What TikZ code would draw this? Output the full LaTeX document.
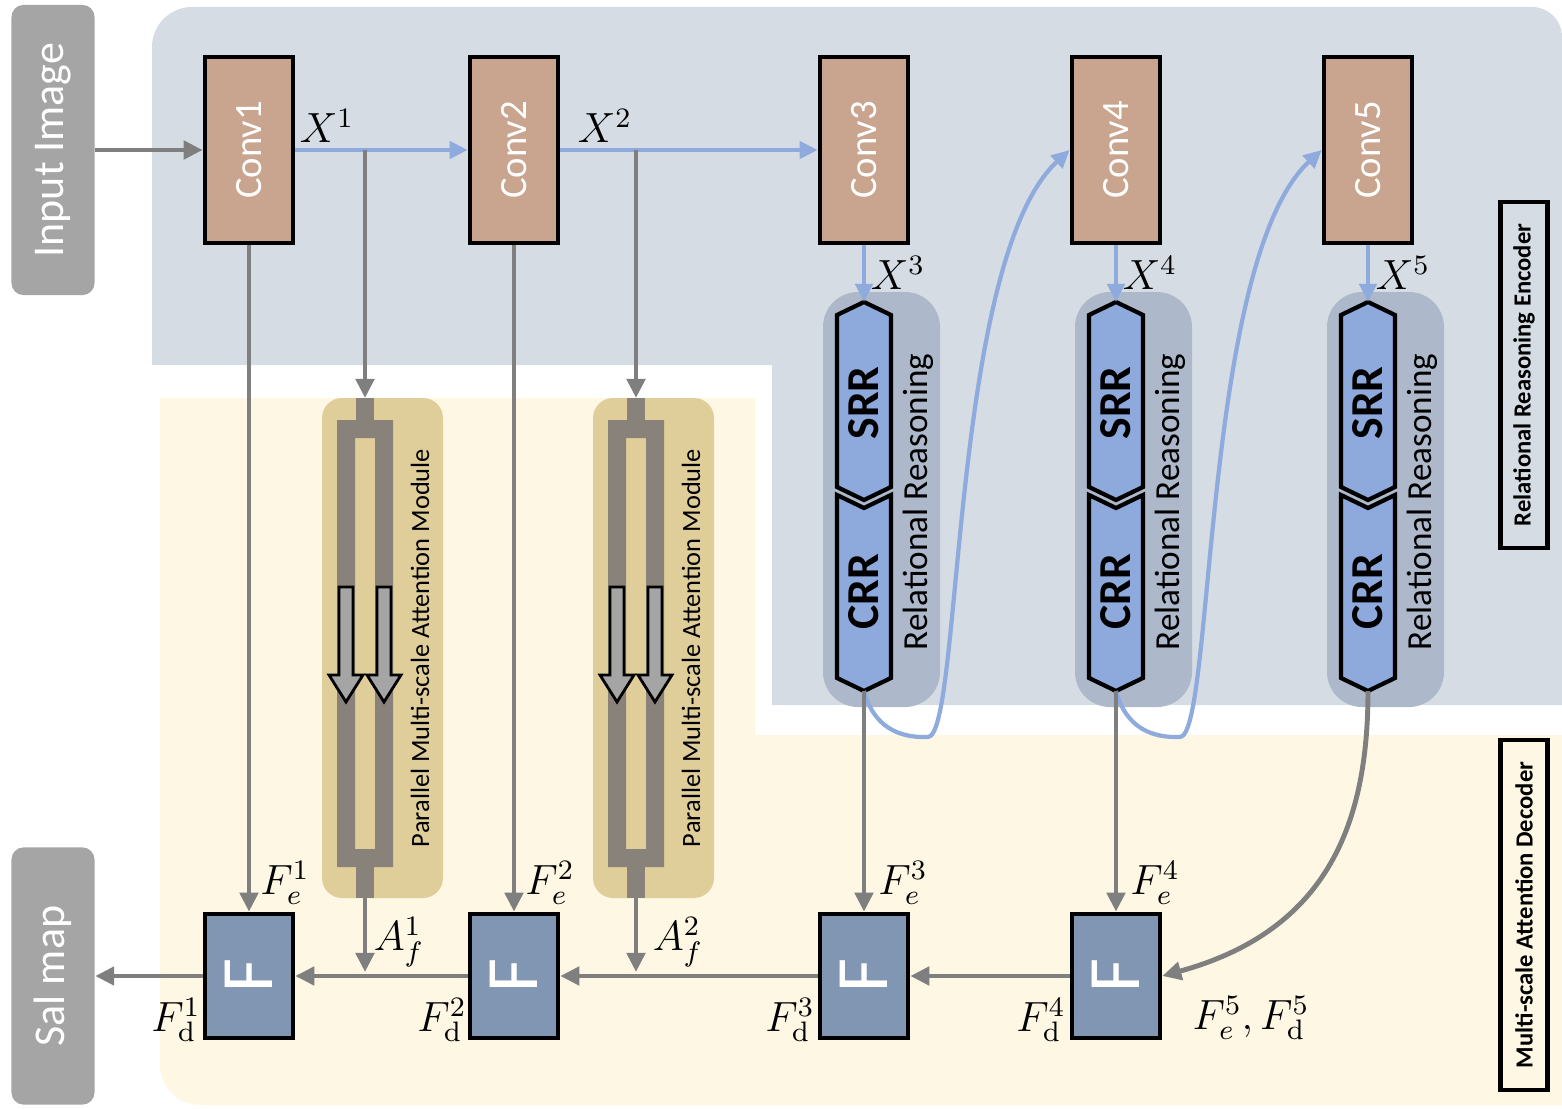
\documentclass[tikz,border=0pt]{standalone}
\usepackage[no-math]{fontspec}
\setmainfont{Carlito}
\usetikzlibrary{arrows.meta, positioning, calc}
\definecolor{encBg}{HTML}{D6DCE4}
\definecolor{decBg}{HTML}{FEF7E4}
\definecolor{ioGrey}{HTML}{A5A5A5}
\definecolor{convBrown}{HTML}{C9A48E}
\definecolor{rrBg}{HTML}{ADB8CA}
\definecolor{rrBlue}{HTML}{8EA9DB}
\definecolor{fuseBlue}{HTML}{8196B3}
\definecolor{pmamTan}{HTML}{DFCD9A}
\definecolor{pmamGrey}{HTML}{89827A}
\definecolor{lineGrey}{HTML}{7F7F7F}
\definecolor{lineBlue}{HTML}{8FAADC}
\tikzset{
  greyarrow/.style   = {-{Triangle[length=1.9mm, width=1.8mm]}, line width=1.4pt, lineGrey},
  bluearrow/.style   = {-{Triangle[length=1.8mm, width=1.7mm]}, line width=1.2pt, lineBlue},
  convbox/.style     = {draw=black, line width=1.3pt, fill=convBrown, text=white,
                        minimum width=0.88cm, minimum height=1.86cm, inner sep=0pt,
                        font=\fontsize{11}{13}\selectfont},
  fusebox/.style     = {draw=black, line width=1.3pt, fill=fuseBlue, text=white,
                        minimum width=0.88cm, minimum height=1.24cm, inner sep=0pt,
                        font=\fontsize{21}{24}\selectfont},
  iobox/.style       = {fill=ioGrey, rounded corners=0.12cm, text=white, inner sep=0pt,
                        minimum width=0.83cm, font=\fontsize{12.5}{15}\selectfont},
  sidebox/.style     = {draw=black, line width=1.3pt, inner sep=0pt, minimum width=0.47cm,
                        font=\bfseries\fontsize{7}{8}\selectfont},
  chevron/.style     = {fill=rrBlue, draw=black, line width=1.2pt, line join=miter},
  rrtext/.style      = {font=\bfseries\fontsize{13}{15}\selectfont, inner sep=0pt},
  sidetext/.style    = {font=\fontsize{10}{12}\selectfont, inner sep=0pt},
  pmamtext/.style    = {font=\fontsize{7.5}{9}\selectfont, inner sep=0pt},
  hollowarrow/.style = {fill=ioGrey, draw=black, line width=0.8pt},
  lbl/.style         = {font=\fontsize{12}{14}\selectfont, inner sep=1pt},
}
\begin{document}
\begin{tikzpicture}[x=0.01cm, y=-0.01cm]
  \useasboundingbox (0,0) rectangle (1562,1109);
  % background regions
  \fill[encBg] (152,365) -- (152,47) arc[start angle=180, end angle=90, radius=0.4cm]
    -- (1532,7) arc[start angle=90, end angle=0, radius=0.3cm]
    -- (1562,705) -- (772,705) -- (772,365) -- cycle;
  \fill[decBg] (160,398) -- (755,398) -- (755,735) -- (1562,735) -- (1562,1105)
    -- (200,1105) arc[start angle=270, end angle=180, radius=0.4cm] -- cycle;

  % relational reasoning modules
  \foreach \i/\x in {3/864, 4/1116, 5/1368} {
    \fill[rrBg, rounded corners=0.35cm] (\x-41,292) rectangle (\x+76,707);
    \draw[chevron] (\x,302) -- (\x+27,315) -- (\x+27,487) -- (\x,500) -- (\x-27,487) -- (\x-27,315) -- cycle;
    \draw[chevron] (\x,508) -- (\x+27,495) -- (\x+27,678) -- (\x,691) -- (\x-27,678) -- (\x-27,495) -- cycle;
    \node[rrtext] (srr\i) at (\x,403) {\rotatebox{90}{SRR}};
    \node[rrtext] (crr\i) at (\x,592) {\rotatebox{90}{CRR}};
    \node[sidetext] (rrlbl\i) at (\x+54,502) {\rotatebox{90}{Relational Reasoning}};
    \coordinate (rrtop\i) at (\x,302);
    \coordinate (rrbot\i) at (\x,691);
  }

  % parallel multi-scale attention modules
  \foreach \j/\x in {1/365, 2/636} {
    \fill[pmamTan, rounded corners=0.2cm] (\x-43,398) rectangle (\x+78,898);
    \fill[pmamGrey] (\x-9,398) rectangle (\x+9,420);
    \fill[pmamGrey, even odd rule] (\x-28,420) rectangle (\x+28,867) (\x-10,438) rectangle (\x+10,849);
    \fill[pmamGrey] (\x-9,867) rectangle (\x+9,898);
    \foreach \dx in {-19,19}
      \draw[hollowarrow] (\x+\dx-7,587) -- (\x+\dx+7,587) -- (\x+\dx+7,675) -- (\x+\dx+17,675)
        -- (\x+\dx,702) -- (\x+\dx-17,675) -- (\x+\dx-7,675) -- cycle;
    \node[pmamtext] (pmamlbl\j) at (\x+55,648) {\rotatebox{90}{Parallel Multi-scale Attention Module}};
    \coordinate (pmamtop\j) at (\x,398);
    \coordinate (pmambot\j) at (\x,898);
  }

  % blocks
  \node[iobox, minimum height=2.9cm] (input) at (53,150) {\rotatebox{90}{Input Image}};
  \node[iobox, minimum height=2.57cm] (salmap) at (53,976) {\rotatebox{90}{Sal map}};
  \foreach \i/\x in {1/249, 2/514, 3/864, 4/1116, 5/1368}
    \node[convbox] (conv\i) at (\x,150) {\rotatebox{90}{Conv\i}};
  \foreach \i/\x in {1/249, 2/514, 3/864, 4/1116}
    \node[fusebox] (fuse\i) at (\x,976) {\rotatebox{90}{F}};
  \node[sidebox, minimum height=3.46cm] (enclbl) at (1524,375) {\rotatebox{90}{Relational Reasoning Encoder}};
  \node[sidebox, minimum height=3.5cm] (declbl) at (1524,915) {\rotatebox{90}{Multi-scale Attention Decoder}};

  % encoder flow
  \draw[greyarrow] (input) -- (conv1);
  \draw[bluearrow] (conv1) -- (conv2);
  \draw[bluearrow] (conv2) -- (conv3);
  \coordinate (br1) at (365,150);
  \coordinate (br2) at (636,150);
  \draw[greyarrow] (br1) -- (pmamtop1);
  \draw[greyarrow] (br2) -- (pmamtop2);
  \foreach \i in {3,4,5} \draw[bluearrow] (conv\i) -- (rrtop\i);
  \draw[bluearrow] (rrbot3) .. controls (874,728) and (900,738) .. (928,737)
    .. controls (962,736) and (950,260) .. (conv4.west);
  \draw[bluearrow] (rrbot4) .. controls (1126,728) and (1152,738) .. (1180,737)
    .. controls (1214,736) and (1202,260) .. (conv5.west);

  % decoder flow
  \draw[greyarrow] (conv1) -- (fuse1);
  \draw[greyarrow] (conv2) -- (fuse2);
  \draw[greyarrow] (rrbot3) -- (fuse3);
  \draw[greyarrow] (rrbot4) -- (fuse4);
  \draw[greyarrow] (rrbot5) .. controls (1368,820) and (1330,930) .. (fuse4.east);
  \draw[greyarrow] (fuse4) -- (fuse3);
  \draw[greyarrow] (fuse3) -- (fuse2);
  \draw[greyarrow] (fuse2) -- (fuse1);
  \draw[greyarrow] (fuse1) -- (salmap);
  \coordinate (af1) at (365,972);
  \coordinate (af2) at (636,972);
  \draw[greyarrow] (pmambot1) -- (af1);
  \draw[greyarrow] (pmambot2) -- (af2);

  % labels
  \node[lbl] (x1) at (327,126) {$X^1$};
  \node[lbl] (x2) at (605,126) {$X^2$};
  \foreach \i/\x in {3/898, 4/1150, 5/1403}
    \node[lbl] (x\i) at (\x,273) {$X^\i$};
  \foreach \i/\x in {1/285, 2/550, 3/903, 4/1155}
    \node[lbl] (fe\i) at (\x,883) {$F_e^\i$};
  \foreach \i/\x in {1/176, 2/442, 3/790, 4/1041}
    \node[lbl] (fd\i) at (\x,1020) {$F_{\mathrm{d}}^\i$};
  \node[lbl] (fd5) at (1251,1018) {$F_e^5,F_{\mathrm{d}}^5$};
  \node[lbl] (af1lbl) at (399,942) {$A_f^1$};
  \node[lbl] (af2lbl) at (678,942) {$A_f^2$};
\end{tikzpicture}
\end{document}
